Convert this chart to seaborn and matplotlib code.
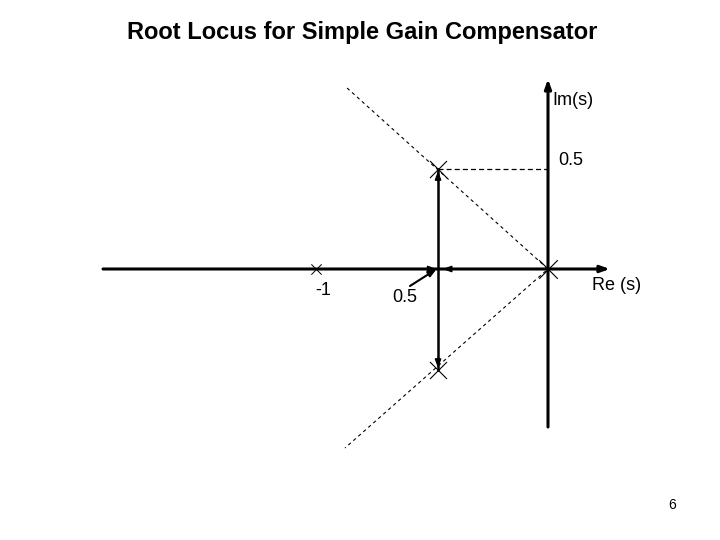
import numpy as np
import pandas as pd
import matplotlib
matplotlib.use("Agg")
import matplotlib.pyplot as plt
import seaborn as sns

# values (x in Re units, y in Im units)
ol_poles_re = [-1.0, 0.0]
ol_poles_im = [0.0, 0.0]
cl_poles_re = [-0.474, -0.474]
cl_poles_im = [0.5, -0.505]
breakaway_re = -0.474
asym_re = [-0.866, 0.0, -0.875]
asym_im = [0.905, 0.0, -0.895]
re_axis = [-1.918, 0.267]
im_axis = [-0.79, 0.95]

sns.set_theme(style="white")
plt.rcParams["font.family"] = ["Liberation Sans", "DejaVu Sans"]
plt.rcParams["text.color"] = "black"

fig = plt.figure(figsize=(7.2, 5.4), dpi=100)
ax = fig.add_axes([0, 0, 1, 1])
ax.set_xlim(-548 / 232, 172 / 232)
ax.set_ylim(-271 / 200, 269 / 200)
ax.axis("off")

# axes of the s-plane
axis_arrow = dict(arrowstyle="-|>,head_length=0.45,head_width=0.16", lw=2.2, color="black",
                  shrinkA=0, shrinkB=0)
ax.annotate("", xy=(re_axis[1], 0), xytext=(re_axis[0], 0), arrowprops=axis_arrow)
ax.annotate("", xy=(0, im_axis[1]), xytext=(0, im_axis[0]), arrowprops=axis_arrow)

# dashed asymptotes and guide line
asym = pd.DataFrame({"re": asym_re, "im": asym_im})
sns.lineplot(data=asym, x="re", y="im", sort=False, ax=ax, color="black",
             lw=0.8, estimator=None)
ax.lines[-1].set_dashes([3, 3])
ax.plot([cl_poles_re[0], 0], [cl_poles_im[0], cl_poles_im[0]], color="black",
        lw=0.9, dashes=[4, 2.5])

# root locus branch
branch = pd.DataFrame({"re": cl_poles_re, "im": cl_poles_im})
sns.lineplot(data=branch, x="re", y="im", sort=False, ax=ax, color="black",
             lw=1.8, estimator=None)

ahead = dict(arrowstyle="-|>,head_length=0.4,head_width=0.15", color="black", lw=1.2,
             shrinkA=0, shrinkB=0)
ax.annotate("", xy=(breakaway_re, cl_poles_im[0] - 0.01), xytext=(breakaway_re, cl_poles_im[0] - 0.06),
            arrowprops=ahead)
ax.annotate("", xy=(breakaway_re, cl_poles_im[1] + 0.01), xytext=(breakaway_re, cl_poles_im[1] + 0.06),
            arrowprops=ahead)
ax.annotate("", xy=(breakaway_re - 0.006, 0), xytext=(breakaway_re - 0.06, 0), arrowprops=ahead)
ax.annotate("", xy=(breakaway_re + 0.02, 0), xytext=(breakaway_re + 0.08, 0), arrowprops=ahead)

# poles
ax.scatter([ol_poles_re[0]], [ol_poles_im[0]], marker="x", s=55, color="black", lw=0.7, zorder=5)
ax.scatter([ol_poles_re[1]], [ol_poles_im[1]], marker="x", s=180, color="black", lw=0.8, zorder=5)
sns.scatterplot(x=cl_poles_re, y=cl_poles_im, ax=ax, marker="x", s=150, color="black",
                linewidth=0.8, zorder=5)

# labels
fs = 13
ax.text(0.017, 0.845, "Im(s)", fontsize=fs, ha="left", va="center")
ax.text(0.043, 0.545, "0.5", fontsize=fs, ha="left", va="center")
ax.text(-0.97, -0.105, "-1", fontsize=fs, ha="center", va="center")
ax.text(-0.672, -0.14, "0.5", fontsize=fs, ha="left", va="center")
ax.annotate("", xy=(breakaway_re - 0.006, 0), xytext=(-0.595, -0.085),
            arrowprops=dict(arrowstyle="-|>,head_length=0.4,head_width=0.15", color="black",
                            lw=1.5, shrinkA=0, shrinkB=0))
ax.text(0.19, -0.08, "Re (s)", fontsize=fs, ha="left", va="center")
ax.text(0.534, -1.18, "6", fontsize=10, ha="center", va="center")

fig.text(362 / 720, 1 - 33 / 540, "Root Locus for Simple Gain Compensator",
         fontsize=17, fontweight="bold", ha="center", va="center")

fig.savefig("out.png", dpi=100, facecolor="white")
